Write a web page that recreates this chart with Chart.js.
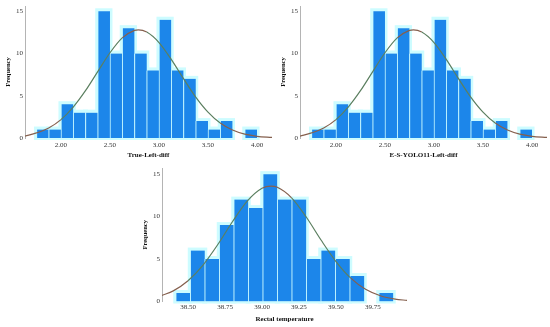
<!DOCTYPE html>
<html><head><meta charset="utf-8">
<script src="https://cdn.jsdelivr.net/npm/chart.js@4"></script>
<style>
html,body{margin:0;padding:0;background:#fff;width:550px;height:327px;overflow:hidden}
.c{position:absolute}
</style></head><body>
<div class="c" style="left:0;top:0;width:275px;height:160px"><canvas id="c1"></canvas></div>
<div class="c" style="left:275px;top:0;width:275px;height:160px"><canvas id="c2"></canvas></div>
<div class="c" style="left:137px;top:162px;width:273px;height:164px"><canvas id="c3"></canvas></div>
<script>
// ---- data ----
const diffBinCenters = [1.8125,1.9375,2.0625,2.1875,2.3125,2.4375,2.5625,2.6875,2.8125,2.9375,3.0625,3.1875,3.3125,3.4375,3.5625,3.6875,3.8125,3.9375];
const trueLeftCounts = [1,1,4,3,3,15,10,13,10,8,14,8,7,2,1,2,0,1];
const yoloLeftCounts = [1,1,4,3,3,15,10,13,10,8,14,8,7,2,1,2,0,1];
const diffCurveX = [1.633,1.75,1.875,2.0,2.125,2.25,2.375,2.5,2.625,2.75,2.79,2.875,3.0,3.125,3.25,3.375,3.5,3.625,3.75,3.875,4.0,4.153];
const trueLeftCurveY = [0.22,0.6,1.19,2.18,3.66,5.6,7.86,10.09,11.85,12.74,12.8,12.54,11.3,9.31,7.03,4.85,3.07,1.77,0.94,0.45,0.2,0.07];
const yoloLeftCurveY = [0.22,0.6,1.19,2.18,3.66,5.6,7.86,10.09,11.85,12.74,12.8,12.54,11.3,9.31,7.03,4.85,3.07,1.77,0.94,0.45,0.2,0.07];
const rectalBinCenters = [38.466,38.564,38.662,38.760,38.858,38.956,39.054,39.152,39.250,39.348,39.446,39.544,39.642,39.740,39.838];
const rectalCounts = [1,6,5,9,12,11,15,12,12,5,6,5,3,0,1];
const rectalCurveX = [38.324,38.4,38.5,38.6,38.7,38.8,38.9,39.0,39.06,39.1,39.2,39.3,39.4,39.5,39.6,39.7,39.8,39.9,39.98];
const rectalCurveY = [0.72,1.25,2.44,4.26,6.68,9.39,11.82,13.33,13.6,13.48,12.21,9.92,7.21,4.71,2.75,1.44,0.68,0.28,0.13];
const diffTicks = [2.0,2.5,3.0,3.5,4.0];
const rectalTicks = [38.5,38.75,39.0,39.25,39.5,39.75];
const freqTicks = [0,5,10,15];
const titles = ['True-Left-diff','E-S-YOLO11-Left-diff','Rectal temperature'];

// ---- rendering ----
const FONT = "'Liberation Serif', 'Times New Roman', serif";
// pale cyan halo drawn around the bars the library has laid out
const haloPlugin = {
  id: 'halo',
  beforeDatasetDraw(chart, args) {
    if (args.meta.type !== 'bar') return;
    const c = chart.ctx; c.save();
    c.fillStyle = 'rgba(205,252,255,1)';
    args.meta.data.forEach(el => {
      const p = el.getProps(['x','y','base','width'], true);
      if (Math.abs(p.base - p.y) < 0.5) return;
      c.fillRect(p.x - p.width/2 - 2.5, p.y - 3, p.width + 5, p.base - p.y + 5);
    });
    c.restore();
  }
};

function makeChart(id, centers, counts, cx, cy, xTicks, xmin, xmax, ymax, title, opt) {
  const bars = centers.map((x,i)=>({x, y: counts[i]}));
  const curve = cx.map((x,i)=>({x, y: cy[i]}));
  return new Chart(document.getElementById(id), {
    type: 'bar',
    data: { datasets: [
      { type: 'line', data: curve, order: 0, pointRadius: 0, borderWidth: 1.2,
        cubicInterpolationMode: 'monotone', fill: false,
        borderColor: '#85604e',
        segment: { borderColor: ctx => {
          const dx = Math.abs(ctx.p1.x - ctx.p0.x) || 1;
          const s = Math.abs(ctx.p1.y - ctx.p0.y) / dx;
          return s > 0.85 ? '#5b7f60' : '#85604e';
        } } },
      { type: 'bar', data: bars, order: 1, backgroundColor: '#1c86ea',
        borderColor: 'rgba(200,250,255,1)', borderWidth: {left:1, right:0, top:0, bottom:0},
        borderSkipped: false, barPercentage: 1, categoryPercentage: 1 }
    ]},
    options: {
      responsive: true, maintainAspectRatio: false, animation: false,
      devicePixelRatio: 1,
      layout: { padding: { top: opt.top, right: 3, bottom: 0, left: 0 } },
      plugins: { legend: { display: false }, tooltip: { enabled: false } },
      scales: {
        x: { type: 'linear', min: xmin, max: xmax, offset: false,
          grid: { display: false, drawTicks: false }, border: { display: false },
          afterBuildTicks: s => { s.ticks = xTicks.map(v => ({value: v})); },
          afterFit: s => { s.height = opt.xh; },
          ticks: { padding: opt.tp, color: '#333', font: { family: FONT, size: 7 },
            maxRotation: 0, autoSkip: false, callback: v => Number(v).toFixed(2) },
          title: { display: true, text: title, color: '#111', padding: { top: 0, bottom: opt.tb },
            font: { family: FONT, size: 7, weight: 'bold' } } },
        y: { type: 'linear', min: 0, max: ymax,
          grid: { display: false, drawTicks: false },
          border: { display: true, color: '#b4b4b4', width: 1 },
          afterBuildTicks: s => { s.ticks = freqTicks.map(v => ({value: v})); },
          afterFit: s => { s.width = 25; },
          ticks: { padding: 2, color: '#333', font: { family: FONT, size: 7 } },
          title: { display: true, text: 'Frequency', color: '#111', padding: { top: 4, bottom: 0 },
            font: { family: FONT, size: 6.5, weight: 'bold' } } }
      }
    },
    plugins: [haloPlugin]
  });
}

makeChart('c1', diffBinCenters, trueLeftCounts, diffCurveX, trueLeftCurveY, diffTicks, 1.633, 4.153, 15.6, titles[0], {top: 6, xh: 22, tp: 3, tb: 1});
makeChart('c2', diffBinCenters, yoloLeftCounts, diffCurveX, yoloLeftCurveY, diffTicks, 1.633, 4.153, 15.6, titles[1], {top: 6, xh: 22, tp: 3, tb: 1});
makeChart('c3', rectalBinCenters, rectalCounts, rectalCurveX, rectalCurveY, rectalTicks, 38.324, 39.98, 15.7, titles[2], {top: 6, xh: 24.5, tp: 1, tb: 3});
</script>
</body></html>
